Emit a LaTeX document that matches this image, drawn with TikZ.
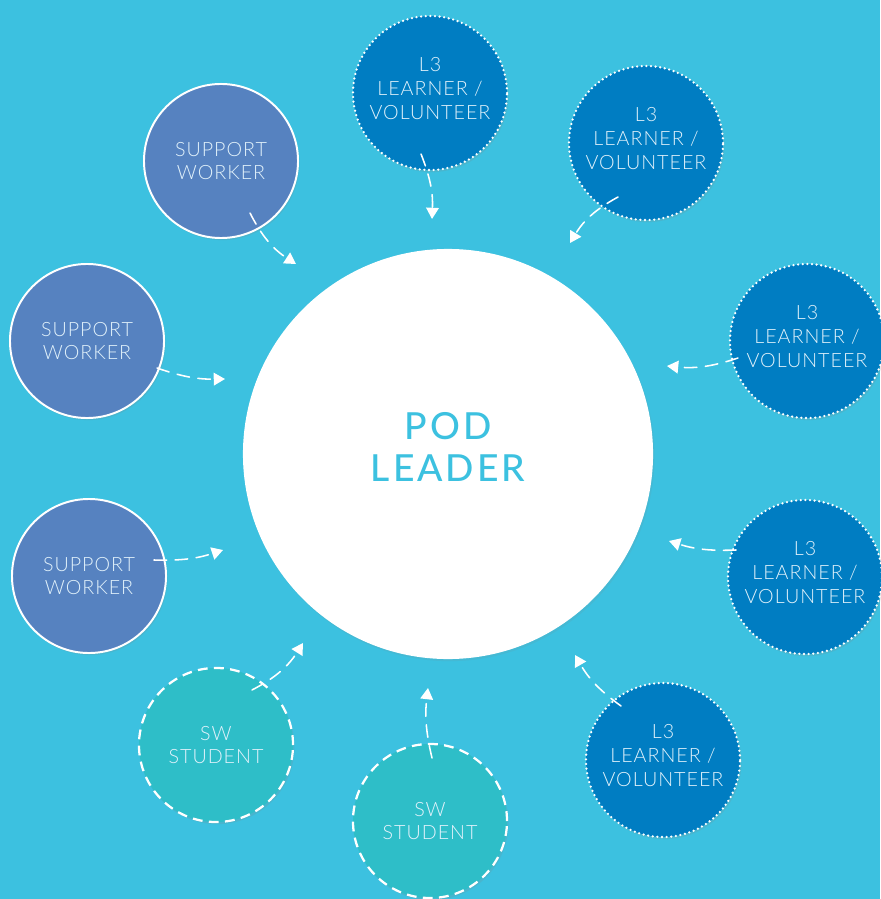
\documentclass[tikz,border=0pt]{standalone}
\usepackage{fontspec}
\setmainfont{Lato}
\newfontfamily\thinfont{Lato Light}
\newfontfamily\medfont{Lato Medium}
\usetikzlibrary{arrows.meta,shadows,calc}
\definecolor{bg}{HTML}{3CC1E0}
\definecolor{swc}{HTML}{5682C0}
\definecolor{l3c}{HTML}{007DC2}
\definecolor{stc}{HTML}{2EBEC8}
\definecolor{txt}{HTML}{E2F2FB}
\tikzset{
  circ/.style={circle, minimum size=3.85cm, inner sep=0pt, align=center, text=txt,
    font=\thinfont\addfontfeatures{LetterSpace=5}\fontsize{14}{17}\selectfont,
    drop shadow={opacity=0.18, shadow xshift=1pt, shadow yshift=-1.5pt}},
  swnode/.style={circ, fill=swc, draw=white, line width=1.4pt},
  l3node/.style={circ, fill=l3c, draw=white, line width=1.8pt, dash pattern=on 0pt off 3.3pt, line cap=round, text depth=6pt},
  stnode/.style={circ, fill=stc, draw=white, line width=1.6pt, dash pattern=on 7pt off 4.5pt},
  podnode/.style={circle, fill=white, minimum size=10.25cm, inner sep=0pt, align=center, text=bg,
    font=\medfont\addfontfeatures{LetterSpace=8}\fontsize{26.5}{29.5}\selectfont, text depth=10pt,
    drop shadow={opacity=0.12, shadow xshift=1pt, shadow yshift=-1.5pt}},
  flow/.style={draw=white, line width=1.1pt, dash pattern=on 9pt off 6pt, line cap=round,
    -{Triangle[length=8pt,width=9pt,fill=white]}}
}
\begin{document}
\begin{tikzpicture}[x=0.025cm,y=-0.025cm]
\fill[bg] (0,0) rectangle (880,899);
\useasboundingbox (0,0) rectangle (880,899);
\node[podnode] (pod) at (448,454) {POD\\LEADER};
\node[swnode] (sw1) at (221,161) {SUPPORT\\WORKER};
\node[swnode] (sw2) at (87,341) {SUPPORT\\WORKER};
\node[swnode] (sw3) at (89,576) {SUPPORT\\WORKER};
\node[l3node] (l1) at (430,93) {L3\\LEARNER /\\VOLUNTEER};
\node[l3node] (l2) at (646,143) {L3\\LEARNER /\\VOLUNTEER};
\node[l3node] (l3) at (807,341) {L3\\LEARNER /\\VOLUNTEER};
\node[l3node] (l4) at (805,577) {L3\\LEARNER /\\VOLUNTEER};
\node[l3node] (l5) at (663,760) {L3\\LEARNER /\\VOLUNTEER};
\node[stnode] (st1) at (216,745) {SW\\STUDENT};
\node[stnode] (st2) at (430,821) {SW\\STUDENT};
% connector ends
\coordinate (sw1s) at (250,213); \coordinate (sw1e) at (296,264);
\coordinate (sw2s) at (157,368); \coordinate (sw2e) at (225,379);
\coordinate (sw3s) at (154,560); \coordinate (sw3e) at (223,550);
\coordinate (l1s) at (421,154); \coordinate (l1e) at (432,219);
\coordinate (l2s) at (618,197); \coordinate (l2e) at (570,243);
\coordinate (l3s) at (738,358); \coordinate (l3e) at (667,366);
\coordinate (l4s) at (736,550); \coordinate (l4e) at (669,541);
\coordinate (l5s) at (621,706); \coordinate (l5e) at (575,655);
\coordinate (st1s) at (252,690); \coordinate (st1e) at (303,643);
\coordinate (st2s) at (432,758); \coordinate (st2e) at (428,688);
\draw[flow] (sw1s) to[bend right=15] (sw1e);
\draw[flow] (sw2s) to[bend right=10] (sw2e);
\draw[flow] (sw3s) to[bend right=10] (sw3e);
\draw[flow] (l1s) to[bend left=12] (l1e);
\draw[flow] (l2s) to[bend right=15] (l2e);
\draw[flow] (l3s) to[bend left=12] (l3e);
\draw[flow] (l4s) to[bend left=10] (l4e);
\draw[flow] (l5s) to[bend left=12] (l5e);
\draw[flow] (st1s) to[bend right=15] (st1e);
\draw[flow] (st2s) to[bend left=10] (st2e);
\end{tikzpicture}
\end{document}
